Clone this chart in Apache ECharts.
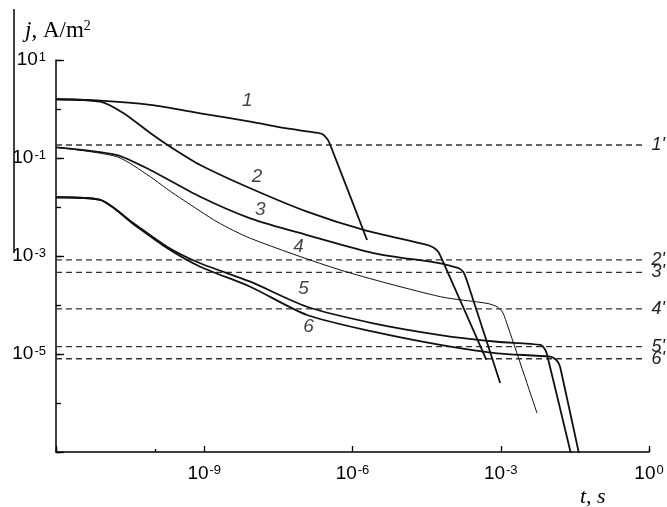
<!DOCTYPE html>
<html>
<head>
<meta charset="utf-8">
<script src="https://cdn.jsdelivr.net/npm/echarts@6/dist/echarts.min.js"></script>
<style>
  html, body { margin: 0; padding: 0; background: #fff; }
  #chart { width: 667px; height: 507px; }
</style>
</head>
<body>
<div id="chart"></div>
<script>
// t in s, j in A/m^2
const curve1T = [1e-12, 7.85e-12, 8.07e-11, 8.3e-10, 8.53e-9, 5.5e-8, 1.91e-7, 2.45e-7, 3.09e-7, 3.55e-7, 1.97e-6];
const curve1J = [1.58, 1.48, 1.21, 0.817, 0.551, 0.391, 0.328, 0.309, 0.244, 0.184, 2.12e-3];

const curve2T = [1e-12, 7.85e-12, 2.29e-11, 8.07e-11, 2.05e-10, 8.3e-10, 8.53e-9, 1.2e-7, 1.68e-6, 3.22e-5, 4.33e-5, 5.46e-5, 6.57e-5, 5.12e-4];
const curve2J = [1.58, 1.41, 0.828, 0.324, 0.170, 0.0720, 0.0241, 8.02e-3, 3.40e-3, 1.68e-3, 1.49e-3, 1.21e-3, 8.28e-4, 7.55e-6];

const curve3T = [1e-12, 1.71e-11, 8.07e-11, 8.3e-10, 8.53e-9, 1.2e-7, 2.64e-6, 5.98e-5, 1.10e-4, 1.39e-4, 1.75e-4, 2.11e-4, 9.73e-4];
const curve3J = [0.165, 0.115, 0.0569, 0.0162, 5.87e-3, 2.68e-3, 1.15e-3, 7.10e-4, 6.05e-4, 5.69e-4, 4.71e-4, 2.94e-4, 2.56e-6];

const curve4T = [1e-12, 1.71e-11, 8.07e-11, 1.76e-10, 3.76e-10, 1.81e-9, 8.53e-9, 5.66e-7, 5.98e-5, 5.28e-4, 8.41e-4, 1.08e-3, 1.30e-3, 5.43e-3];
const curve4J = [0.165, 0.106, 0.0415, 0.0233, 0.0139, 5.0e-3, 2.30e-3, 5.18e-4, 1.48e-4, 1.08e-4, 9.22e-5, 7.2e-5, 4.5e-5, 6.17e-7];

const curve5T = [1e-12, 7.85e-12, 3.66e-11, 1.76e-10, 8.3e-10, 8.53e-9, 1.2e-7, 2.64e-6, 5.98e-5, 8.41e-4, 6.34e-3, 8.0e-3, 8.78e-3, 0.0282];
const curve5J = [0.0158, 0.0139, 4.71e-3, 1.55e-3, 7.10e-4, 2.99e-4, 9.22e-5, 4.24e-5, 2.44e-5, 1.78e-5, 1.53e-5, 1.21e-5, 9.1e-6, 6.9e-8];

const curve6T = [1e-12, 7.85e-12, 3.66e-11, 1.76e-10, 8.3e-10, 8.53e-9, 1.2e-7, 2.64e-6, 5.98e-5, 8.41e-4, 1.01e-2, 1.33e-2, 1.49e-2, 1.61e-2, 0.0408];
const curve6J = [0.0158, 0.0139, 4.5e-3, 1.46e-3, 6.05e-4, 2.36e-4, 6.25e-5, 2.85e-5, 1.53e-5, 1.03e-5, 8.8e-6, 7.55e-6, 6.45e-6, 5.18e-6, 6.9e-8];

const curveTags = ['1', '2', '3', '4', '5', '6'];
const curveWidths = [1.8, 1.8, 1.8, 1, 1.8, 1.8];
// where the curve numbers sit (t, j)
const tagT = [7.41e-9, 1.17e-8, 1.36e-8, 8.11e-8, 1.02e-7, 1.29e-7];
const tagJ = [1.46, 0.0415, 8.7e-3, 1.55e-3, 2.19e-4, 3.6e-5];

// horizontal dashed levels 1'..6'
const refTags = ["1'", "2'", "3'", "4'", "5'", "6'"];
const refJ = [0.184, 8.3e-4, 4.65e-4, 8.3e-5, 1.41e-5, 8.0e-6];
const refStart = 1e-12;
const refEnd = 0.85;

// labelled decades (exponents)
const xLabelExp = [-9, -6, -3, 0];
const yLabelExp = [1, -1, -3, -5];

const SANS = 'Liberation Sans';
const SERIF = 'Liberation Serif';

const curvesT = [curve1T, curve2T, curve3T, curve4T, curve5T, curve6T];
const curvesJ = [curve1J, curve2J, curve3J, curve4J, curve5J, curve6J];

const powRich = {
  b: { fontSize: 19, fontFamily: SANS, color: '#000' },
  s: { fontSize: 13, fontFamily: SANS, color: '#000', verticalAlign: 'top', padding: [0, 0, 0, 1] }
};
const powLabel = (list) => (v) => list.includes(Math.round(v)) ? '{b|10}{s|' + Math.round(v) + '}' : '';

const chart = echarts.init(document.getElementById('chart'));

const series = [];
curvesT.forEach((ts, i) => {
  series.push({
    type: 'line',
    name: curveTags[i],
    xAxisIndex: 0,
    yAxisIndex: 0,
    data: ts.map((t, k) => [t, curvesJ[i][k]]),
    symbol: 'none',
    smooth: 0.25,
    clip: true,
    silent: true,
    lineStyle: { color: '#111', width: curveWidths[i] },
    z: 3
  });
});

refJ.forEach((v, i) => {
  series.push({
    type: 'line',
    xAxisIndex: 0,
    yAxisIndex: 0,
    data: [[refStart, v], [refEnd, v]],
    symbol: 'none',
    silent: true,
    lineStyle: { color: '#333', width: 1.3, type: [6, 4] },
    endLabel: {
      show: true,
      formatter: refTags[i],
      distance: 6,
      fontFamily: SANS,
      fontStyle: 'italic',
      fontSize: 18,
      color: '#222'
    },
    z: 2
  });
});

series.push({
  type: 'scatter',
  xAxisIndex: 0,
  yAxisIndex: 0,
  data: tagT.map((t, i) => [t, tagJ[i]]),
  symbolSize: 0,
  silent: true,
  label: {
    show: true,
    position: 'inside',
    formatter: (p) => curveTags[p.dataIndex],
    fontFamily: SANS,
    fontStyle: 'italic',
    fontSize: 19,
    color: '#111'
  },
  z: 4
});

chart.setOption({
  animation: false,
  backgroundColor: '#fff',
  grid: { left: 56, right: 18, top: 60, bottom: 55 },
  xAxis: [
    {
      type: 'log', logBase: 10, min: 1e-12, max: 1, splitNumber: 12,
      axisLine: { onZero: false, lineStyle: { color: '#000', width: 1.5 } },
      axisTick: { inside: true, length: 3, lineStyle: { color: '#000', width: 1.3 } },
      axisLabel: { show: false },
      splitLine: { show: false }
    },
    {
      type: 'value', min: -12, max: 0, interval: 3, position: 'bottom',
      axisLine: { show: false, onZero: false },
      axisTick: { inside: true, length: 6, lineStyle: { color: '#000', width: 1.3 } },
      axisLabel: { margin: 12, formatter: powLabel(xLabelExp), rich: powRich },
      splitLine: { show: false }
    }
  ],
  yAxis: [
    {
      type: 'log', logBase: 10, min: 1e-7, max: 10, splitNumber: 8,
      axisLine: { onZero: false, lineStyle: { color: '#000', width: 1.5 } },
      axisTick: { inside: true, length: 5, lineStyle: { color: '#000', width: 1.3 } },
      axisLabel: { show: false },
      splitLine: { show: false }
    },
    {
      type: 'value', min: -7, max: 1, interval: 2, position: 'left',
      axisLine: { show: false, onZero: false },
      axisTick: { inside: true, length: 8, lineStyle: { color: '#000', width: 1.3 } },
      axisLabel: { margin: 10, formatter: powLabel(yLabelExp), rich: powRich },
      splitLine: { show: false }
    }
  ],
  graphic: [
    {
      type: 'line',
      shape: { x1: 14, y1: 9, x2: 14, y2: 253 },
      style: { stroke: '#000', lineWidth: 1.5 }
    },
    {
      type: 'text', left: 25, top: 19,
      style: {
        text: '{i|j}{n|, A/m}{s|2}',
        rich: {
          i: { fontFamily: SERIF, fontStyle: 'italic', fontSize: 23, fill: '#000' },
          n: { fontFamily: SERIF, fontSize: 23, fill: '#000' },
          s: { fontFamily: SERIF, fontSize: 14, fill: '#000', verticalAlign: 'top' }
        }
      }
    },
    {
      type: 'text', left: 580, top: 486,
      style: {
        text: 't, s',
        font: 'italic 22px "Liberation Serif"',
        fill: '#000'
      }
    }
  ],
  series: series
});
</script>
</body>
</html>
